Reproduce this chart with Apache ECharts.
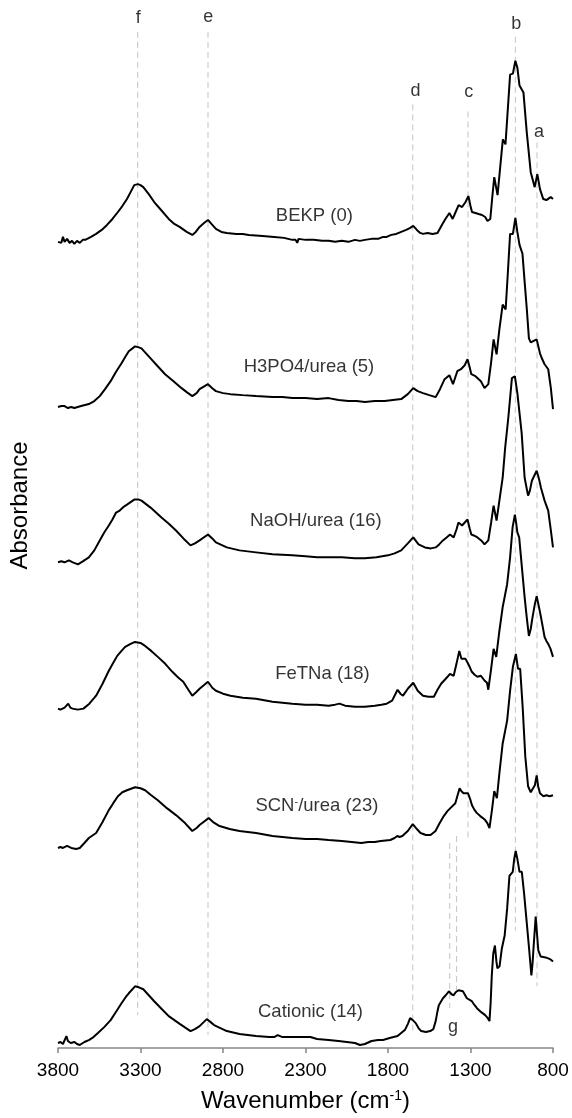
<!DOCTYPE html>
<html>
<head>
<meta charset="utf-8">
<script src="https://cdn.jsdelivr.net/npm/echarts@6.0.0/dist/echarts.min.js"></script>
<style>
  html, body { margin: 0; padding: 0; background: #fff; }
  #chart { width: 572px; height: 1118px; }
</style>
</head>
<body>
<div id="chart"></div>
<script>
// x axis ticks (cm-1)
var xTicks = [3800, 3300, 2800, 2300, 1800, 1300, 800]

// sample names and vertical offsets of each spectrum (stacked plot)
var sampleNames = ['BEKP (0)', 'H3PO4/urea (5)', 'NaOH/urea (16)', 'FeTNa (18)', 'SCN{sup|-}/urea (23)', 'Cationic (14)']
var offsets = [8.10, 6.44, 4.88, 3.41, 2.01, 0.05]
var labelWn = [2246, 2279, 2237, 2197, 2231, 2270]
var labelAbs = [8.36, 6.84, 5.30, 3.76, 2.43, 0.36]

// spectra: [wavenumber, absorbance above own baseline]
var bekp = [[3800,0],[3790,0.02],[3780,-0.01],[3770,0.05],[3760,0.0],[3745,0.03],[3730,-0.01],[3715,0.01],[3701,-0.02],[3685,0.01],[3668,-0.01],[3650,0.02],[3635,0.02],[3600,0.05],[3569,0.08],[3535,0.12],[3503,0.17],[3470,0.23],[3437,0.30],[3410,0.36],[3382,0.43],[3360,0.50],[3338,0.57],[3316,0.58],[3300,0.57],[3283,0.55],[3250,0.48],[3217,0.40],[3170,0.31],[3129,0.23],[3095,0.18],[3063,0.15],[3020,0.10],[2986,0.07],[2965,0.10],[2942,0.15],[2915,0.19],[2891,0.22],[2870,0.18],[2843,0.13],[2810,0.10],[2777,0.09],[2720,0.08],[2680,0.08],[2644,0.07],[2560,0.06],[2490,0.05],[2430,0.04],[2380,0.02],[2360,0.02],[2350,-0.01],[2342,0.03],[2336,0.04],[2300,0.02],[2250,0.02],[2200,0.01],[2160,0.01],[2120,0.0],[2080,0.01],[2040,0.0],[2000,0.02],[1970,0.01],[1940,0.02],[1900,0.03],[1860,0.03],[1830,0.05],[1808,0.05],[1780,0.07],[1750,0.08],[1720,0.10],[1690,0.12],[1665,0.14],[1647,0.16],[1625,0.12],[1605,0.09],[1588,0.08],[1560,0.09],[1530,0.08],[1500,0.09],[1492,0.10],[1470,0.18],[1452,0.23],[1428,0.29],[1408,0.23],[1390,0.30],[1372,0.37],[1351,0.35],[1330,0.40],[1313,0.46],[1300,0.36],[1291,0.30],[1270,0.29],[1251,0.28],[1230,0.27],[1211,0.25],[1197,0.21],[1180,0.23],[1168,0.45],[1156,0.65],[1136,0.47],[1120,0.75],[1104,1.03],[1088,0.98],[1074,1.33],[1060,1.68],[1043,1.69],[1028,1.82],[1016,1.75],[1003,1.57],[979,1.50],[959,1.10],[935,0.70],[911,0.55],[895,0.68],[879,0.53],[859,0.43],[840,0.42],[829,0.43],[814,0.45],[800,0.43]]

var h3po4 = [[3800,0],[3780,0.01],[3760,0.01],[3740,-0.01],[3720,0.0],[3701,-0.01],[3660,0.01],[3613,0.03],[3580,0.06],[3547,0.11],[3515,0.18],[3481,0.26],[3450,0.35],[3415,0.44],[3390,0.51],[3371,0.56],[3333,0.61],[3310,0.60],[3294,0.59],[3239,0.49],[3190,0.40],[3151,0.33],[3100,0.26],[3051,0.19],[3020,0.15],[2986,0.11],[2960,0.14],[2942,0.18],[2891,0.23],[2865,0.19],[2843,0.16],[2800,0.14],[2755,0.13],[2680,0.12],[2600,0.11],[2500,0.10],[2440,0.10],[2380,0.09],[2300,0.09],[2230,0.08],[2160,0.09],[2100,0.07],[2040,0.06],[1990,0.06],[1940,0.05],[1880,0.06],[1820,0.06],[1770,0.07],[1720,0.08],[1680,0.13],[1647,0.19],[1620,0.16],[1588,0.14],[1550,0.12],[1511,0.10],[1485,0.18],[1457,0.28],[1428,0.32],[1406,0.23],[1392,0.30],[1380,0.36],[1358,0.38],[1335,0.42],[1318,0.48],[1305,0.40],[1295,0.33],[1270,0.31],[1237,0.26],[1215,0.19],[1192,0.23],[1175,0.45],[1160,0.68],[1142,0.53],[1125,0.78],[1105,1.03],[1087,0.98],[1074,1.34],[1060,1.74],[1043,1.74],[1028,1.90],[1016,1.76],[1003,1.63],[985,1.54],[972,1.26],[959,0.99],[946,0.69],[935,0.65],[924,0.64],[899,0.68],[879,0.54],[865,0.48],[851,0.43],[829,0.38],[813,0.19],[800,-0.02]]

var naoh = [[3800,0],[3780,0.01],[3760,0.0],[3734,0.02],[3710,0.0],[3679,-0.02],[3650,0.01],[3613,0.05],[3580,0.12],[3547,0.22],[3520,0.30],[3492,0.37],[3470,0.43],[3448,0.50],[3426,0.52],[3400,0.56],[3382,0.58],[3338,0.63],[3310,0.63],[3294,0.62],[3239,0.55],[3173,0.45],[3130,0.39],[3085,0.32],[3040,0.24],[2997,0.17],[2970,0.19],[2942,0.22],[2891,0.28],[2865,0.24],[2843,0.20],[2777,0.15],[2700,0.12],[2600,0.10],[2500,0.08],[2380,0.07],[2300,0.06],[2230,0.05],[2160,0.05],[2080,0.05],[2000,0.04],[1940,0.04],[1870,0.05],[1800,0.07],[1760,0.09],[1720,0.12],[1680,0.19],[1647,0.25],[1615,0.18],[1576,0.15],[1540,0.14],[1511,0.15],[1490,0.18],[1467,0.22],[1445,0.25],[1424,0.28],[1402,0.25],[1385,0.33],[1373,0.40],[1351,0.37],[1335,0.40],[1318,0.43],[1305,0.34],[1295,0.28],[1280,0.27],[1258,0.25],[1235,0.22],[1215,0.18],[1192,0.22],[1175,0.40],[1160,0.57],[1142,0.42],[1125,0.62],[1105,0.85],[1090,1.15],[1071,1.45],[1060,1.65],[1049,1.85],[1031,1.87],[1016,1.70],[1006,1.68],[990,1.30],[972,0.85],[951,0.67],[940,0.72],[928,0.82],[899,0.92],[885,0.84],[873,0.75],[851,0.62],[829,0.52],[813,0.32],[800,0.15]]

var fetna = [[3800,0],[3785,-0.01],[3760,0.01],[3738,0.05],[3725,0.01],[3712,0.0],[3680,-0.01],[3646,0.0],[3610,0.05],[3569,0.13],[3530,0.25],[3492,0.38],[3465,0.46],[3441,0.53],[3415,0.58],[3393,0.62],[3360,0.65],[3333,0.67],[3300,0.66],[3272,0.63],[3235,0.58],[3195,0.52],[3150,0.45],[3107,0.37],[3070,0.31],[3041,0.27],[3010,0.19],[2986,0.13],[2960,0.17],[2942,0.20],[2891,0.27],[2865,0.21],[2843,0.18],[2800,0.15],[2755,0.13],[2680,0.11],[2600,0.10],[2500,0.07],[2440,0.06],[2380,0.05],[2300,0.04],[2230,0.04],[2160,0.03],[2120,0.04],[2094,0.05],[2060,0.03],[2000,0.02],[1940,0.02],[1880,0.03],[1840,0.04],[1808,0.05],[1775,0.08],[1742,0.19],[1725,0.15],[1709,0.13],[1680,0.20],[1647,0.26],[1620,0.18],[1588,0.13],[1555,0.12],[1522,0.12],[1500,0.19],[1478,0.25],[1450,0.30],[1424,0.35],[1402,0.33],[1385,0.45],[1368,0.58],[1355,0.50],[1346,0.48],[1330,0.50],[1318,0.48],[1305,0.42],[1292,0.37],[1275,0.34],[1258,0.32],[1237,0.33],[1214,0.28],[1200,0.26],[1192,0.19],[1175,0.40],[1160,0.60],[1144,0.52],[1125,0.78],[1105,1.02],[1078,1.25],[1060,1.52],[1045,1.82],[1031,1.95],[1022,1.85],[1016,1.77],[1005,1.72],[994,1.52],[972,1.12],[958,0.90],[946,0.73],[935,0.80],[924,0.92],[910,1.05],[899,1.13],[885,1.02],[873,0.92],[851,0.72],[840,0.68],[829,0.65],[815,0.60],[800,0.52]]

var scn = [[3800,0],[3785,0.01],[3770,0.0],[3745,0.02],[3720,0.0],[3690,-0.01],[3668,0.0],[3640,0.05],[3613,0.10],[3569,0.15],[3530,0.26],[3492,0.38],[3465,0.45],[3437,0.52],[3410,0.56],[3382,0.58],[3333,0.61],[3300,0.60],[3272,0.58],[3235,0.53],[3195,0.48],[3140,0.40],[3085,0.33],[3030,0.25],[2986,0.17],[2960,0.20],[2942,0.23],[2887,0.30],[2860,0.26],[2821,0.22],[2760,0.19],[2700,0.17],[2600,0.15],[2500,0.12],[2380,0.10],[2300,0.09],[2230,0.09],[2160,0.08],[2080,0.07],[2020,0.06],[1962,0.05],[1920,0.06],[1880,0.06],[1844,0.07],[1786,0.08],[1760,0.10],[1744,0.12],[1730,0.11],[1713,0.12],[1680,0.17],[1650,0.24],[1625,0.19],[1603,0.15],[1570,0.13],[1542,0.13],[1512,0.17],[1490,0.24],[1462,0.32],[1440,0.37],[1422,0.40],[1392,0.45],[1380,0.52],[1366,0.60],[1355,0.57],[1342,0.55],[1315,0.55],[1300,0.48],[1291,0.43],[1275,0.38],[1261,0.35],[1241,0.32],[1225,0.30],[1211,0.28],[1198,0.25],[1185,0.20],[1170,0.38],[1156,0.57],[1140,0.50],[1125,0.75],[1105,1.05],[1078,1.28],[1060,1.58],[1043,1.82],[1025,1.95],[1012,1.80],[999,1.80],[984,1.42],[968,0.92],[951,0.62],[935,0.56],[924,0.55],[910,0.63],[899,0.73],[890,0.62],[879,0.55],[858,0.52],[840,0.53],[820,0.52],[810,0.54],[800,0.53]]

var cationic = [[3800,0],[3785,0.01],[3770,-0.01],[3749,0.07],[3740,0.02],[3723,0.0],[3700,0.01],[3685,-0.01],[3668,-0.02],[3640,0.01],[3613,0.03],[3585,0.06],[3558,0.10],[3520,0.16],[3481,0.23],[3450,0.31],[3415,0.40],[3390,0.46],[3371,0.50],[3333,0.57],[3310,0.56],[3283,0.54],[3250,0.48],[3217,0.42],[3170,0.34],[3129,0.27],[3060,0.19],[2997,0.12],[2970,0.14],[2942,0.17],[2898,0.24],[2875,0.21],[2854,0.18],[2777,0.12],[2700,0.09],[2600,0.07],[2520,0.06],[2490,0.06],[2468,0.08],[2440,0.06],[2350,0.06],[2270,0.06],[2230,0.04],[2160,0.03],[2100,0.02],[2050,0.01],[2000,0.0],[1970,-0.02],[1940,-0.01],[1900,0.02],[1860,0.03],[1830,0.03],[1790,0.05],[1742,0.07],[1720,0.10],[1698,0.13],[1680,0.19],[1666,0.25],[1650,0.23],[1632,0.20],[1615,0.15],[1599,0.12],[1570,0.11],[1544,0.12],[1525,0.14],[1511,0.22],[1500,0.32],[1492,0.38],[1467,0.45],[1450,0.48],[1431,0.52],[1415,0.49],[1402,0.48],[1390,0.51],[1372,0.53],[1346,0.52],[1322,0.45],[1292,0.42],[1275,0.38],[1261,0.35],[1235,0.31],[1211,0.28],[1195,0.25],[1185,0.22],[1178,0.40],[1171,0.68],[1162,0.90],[1152,0.98],[1143,0.82],[1137,0.75],[1124,0.77],[1110,0.95],[1093,1.08],[1078,1.35],[1064,1.68],[1044,1.72],[1035,1.85],[1026,1.93],[1016,1.85],[1003,1.72],[989,1.72],[975,1.50],[963,1.28],[945,0.95],[931,0.68],[924,0.80],[917,0.98],[905,1.27],[897,1.10],[889,0.93],[875,0.87],[863,0.85],[845,0.86],[829,0.85],[815,0.84],[800,0.82]]

var spectra = [bekp, h3po4, naoh, fetna, scn, cationic]

// peak marker lines (dashed) and their letters
var peakNames = ['f', 'e', 'd', 'c', 'b', 'a', 'g', '']
var peakWn = [3317, 2891, 1650, 1315, 1028, 897, 1426, 1384]
var peakTop = [10.21, 10.21, 9.48, 9.41, 10.16, 9.10, 2.06, 2.13]
var peakBottom = [0.33, 0.13, 0.16, 2.08, 1.18, 0.62, 0.40, 0.53]
var letterWn = [3313, 2890, 1633, 1311, 1023, 885, 1406]
var letterAbs = [10.35, 10.36, 9.62, 9.61, 10.29, 9.20, 0.21]

var FONT = '"Liberation Sans", Arial, Helvetica, sans-serif'

var chart = echarts.init(document.getElementById('chart'))

var series = []

peakWn.forEach(function (wn, i) {
  series.push({
    type: 'line',
    silent: true,
    showSymbol: false,
    z: 1,
    data: [[wn, peakTop[i]], [wn, peakBottom[i]]],
    lineStyle: { color: '#c4c4c4', width: 1, type: [6, 4] }
  })
})

spectra.forEach(function (sp, i) {
  series.push({
    name: sampleNames[i],
    type: 'line',
    showSymbol: false,
    z: 3,
    data: sp.map(function (p) { return [p[0], p[1] + offsets[i]] }),
    lineStyle: { color: '#000', width: 2 }
  })
})

// text-only scatter used for the sample names and the peak letters
function textSeries (wns, vals, names, size) {
  return {
    type: 'scatter',
    silent: true,
    z: 5,
    symbolSize: 0,
    itemStyle: { color: '#000' },
    data: wns.map(function (wn, i) { return { value: [wn, vals[i]], name: names[i] } }),
    label: {
      show: true,
      position: 'inside',
      formatter: function (p) { return p.name },
      fontFamily: FONT,
      fontSize: size,
      color: '#000',
      textBorderWidth: 0,
      rich: { sup: { fontFamily: FONT, fontSize: 11, color: '#000', verticalAlign: 'top', lineHeight: 18 } }
    }
  }
}

series.push(textSeries(labelWn, labelAbs, sampleNames, 18.5))
series.push(textSeries(letterWn, letterAbs, peakNames, 18))

chart.setOption({
  animation: false,
  backgroundColor: '#fff',
  grid: { left: 56, right: 19, top: 3, bottom: 65 },
  xAxis: {
    type: 'value',
    inverse: true,
    min: 800,
    max: 3800,
    name: 'Wavenumber (cm{sup|-1})',
    nameLocation: 'middle',
    nameGap: 41,
    nameTextStyle: {
      fontFamily: FONT, fontSize: 24, color: '#000',
      rich: { sup: { fontFamily: FONT, fontSize: 14, color: '#000', verticalAlign: 'top', lineHeight: 24 } }
    },
    axisLine: { show: true, lineStyle: { color: '#858585', width: 1.5 } },
    axisTick: { show: true, length: 5, customValues: xTicks, lineStyle: { color: '#858585', width: 1.5 } },
    axisLabel: {
      customValues: xTicks,
      margin: 13,
      fontFamily: FONT,
      fontSize: 19,
      color: '#000',
      formatter: function (v) { return String(v) }
    },
    splitLine: { show: false }
  },
  yAxis: {
    type: 'value',
    min: 0,
    max: 10.5,
    name: 'Absorbance',
    nameLocation: 'middle',
    nameRotate: 90,
    nameGap: 26,
    nameTextStyle: { fontFamily: FONT, fontSize: 24, color: '#000', padding: [0, 0, 0, 40] },
    axisLine: { show: false },
    axisTick: { show: false },
    axisLabel: { show: false },
    splitLine: { show: false }
  },
  series: series
})
</script>
</body>
</html>
